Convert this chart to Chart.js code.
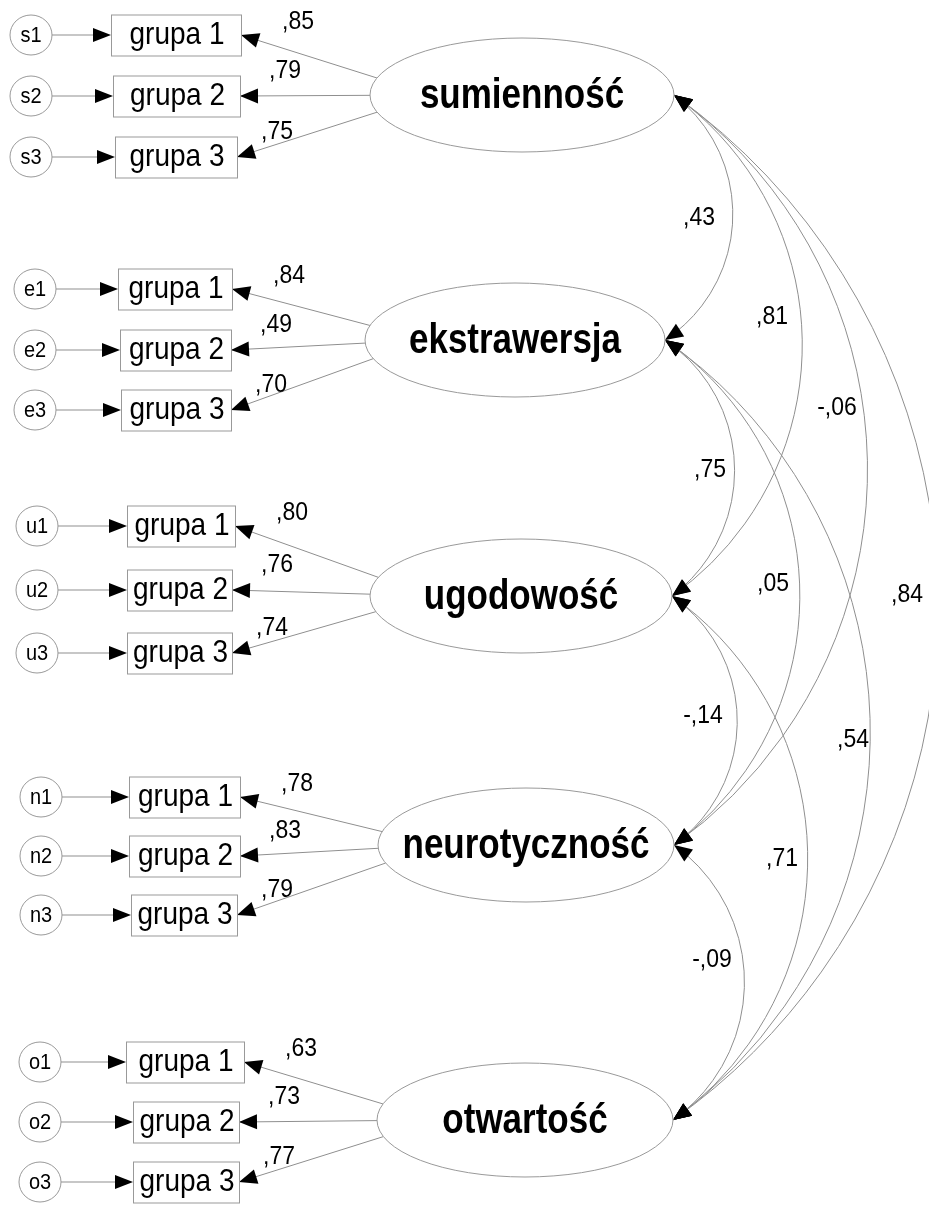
<!DOCTYPE html>
<html>
<head>
<meta charset="utf-8">
<title>Model CFA - pięć czynników</title>
<script src="https://cdn.jsdelivr.net/npm/chart.js@4.4.0/dist/chart.umd.min.js"></script>
<style>
  html, body { margin: 0; padding: 0; background: #fff; }
  #wrap { width: 929px; height: 1207px; }
</style>
</head>
<body>
<div id="wrap"><canvas id="myChart" width="929" height="1207"></canvas></div>
<script>
// dane modelu
const factors = ['sumienność', 'ekstrawersja', 'ugodowość', 'neurotyczność', 'otwartość'];
const errorPrefix = ['s', 'e', 'u', 'n', 'o'];
const indicators = ['grupa 1', 'grupa 2', 'grupa 3'];
const loadings = [
  [0.85, 0.79, 0.75],
  [0.84, 0.49, 0.70],
  [0.80, 0.76, 0.74],
  [0.78, 0.83, 0.79],
  [0.63, 0.73, 0.77]
];
const corrFrom = [0, 0, 0, 0, 1, 1, 1, 2, 2, 3];
const corrTo = [1, 2, 3, 4, 2, 3, 4, 3, 4, 4];
const corrValues = [0.43, 0.81, -0.06, 0.84, 0.75, 0.05, 0.54, -0.14, 0.71, -0.09];

// uklad rysunku (wspolrzedne osi x/y)
const factorX = [522, 515, 521, 526, 525];
const factorY = [95, 340, 596, 845, 1120];
const factorRx = [152, 150, 151, 148, 148];
const factorRy = 57;
const rowY = [[35, 96, 157], [289, 350, 410], [526, 590, 653], [797, 856, 915], [1062, 1122, 1182]];
const boxL = [[111, 113, 115], [118, 120, 121], [127, 127, 127], [129, 129, 131], [126, 133, 133]];
const boxR = [[241, 240, 237], [232, 231, 231], [235, 232, 232], [240, 240, 237], [244, 239, 239]];
const circX = [31, 35, 37, 41, 40];
const loadLabelOff = [[57, -13], [45, -25], [40, -25]];
const corrLabelPos = [[699, 218], [772, 317], [837, 408], [907, 595], [710, 470], [773, 584], [853, 740], [703, 716], [782, 859], [712, 960]];

function fmt(v) {
  let s = Math.abs(v).toFixed(2).replace(/^0\./, ',');
  return (v < 0 ? '-' : '') + s;
}

function arrowHead(ctx, tx, ty, dx, dy, L, W) {
  // dx,dy - kierunek wskazujacy na czubek
  let n = Math.hypot(dx, dy); dx /= n; dy /= n;
  let bx = tx - dx * L, by = ty - dy * L;
  ctx.beginPath();
  ctx.moveTo(tx, ty);
  ctx.lineTo(bx - dy * W, by + dx * W);
  ctx.lineTo(bx + dy * W, by - dx * W);
  ctx.closePath();
  ctx.fillStyle = '#000';
  ctx.fill();
}

// tekst lekko rozciagniety w pionie (jak w AMOS)
function tallText(ctx, txt, x, y, font, k) {
  ctx.save();
  ctx.translate(x, y);
  ctx.scale(1, k);
  ctx.font = font;
  ctx.textAlign = 'center';
  ctx.textBaseline = 'middle';
  ctx.fillStyle = '#000';
  ctx.fillText(txt, 0, 0);
  ctx.restore();
}

const semPlugin = {
  id: 'sem',
  afterDatasetsDraw(chart) {
    const ctx = chart.ctx;
    const xs = chart.scales.x, ys = chart.scales.y;
    const px = v => xs.getPixelForValue(v);
    const py = v => ys.getPixelForValue(v);
    const sx = Math.abs(px(1) - px(0)), sy = Math.abs(py(1) - py(0));
    const lineCol = '#8f8f8f';
    const ff = '"Liberation Sans", Arial, sans-serif';
    ctx.save();
    ctx.lineWidth = 1;

    // korelacje - luki po prawej stronie
    for (let k = 0; k < corrValues.length; k++) {
      let a = corrFrom[k], b = corrTo[k];
      let A = { x: px(factorX[a] + factorRx[a]), y: py(factorY[a]) };
      let B = { x: px(factorX[b] + factorRx[b]), y: py(factorY[b]) };
      let dx = B.x - A.x, dy = B.y - A.y;
      let c = Math.hypot(dx, dy);
      let h = 0.258 * c;
      let R = (c * c / 4 + h * h) / (2 * h);
      let nx = dy / c, ny = -dx / c;
      let mx = (A.x + B.x) / 2, my = (A.y + B.y) / 2;
      let cx = mx - nx * (R - h), cy = my - ny * (R - h);
      let aA = Math.atan2(A.y - cy, A.x - cx), aB = Math.atan2(B.y - cy, B.x - cx);
      ctx.beginPath();
      ctx.arc(cx, cy, R, aA, aB, false);
      ctx.strokeStyle = lineCol;
      ctx.stroke();
      arrowHead(ctx, A.x, A.y, Math.sin(aA), -Math.cos(aA), 18, 7.5);
      arrowHead(ctx, B.x, B.y, -Math.sin(aB), Math.cos(aB), 18, 7.5);
    }

    for (let i = 0; i < factors.length; i++) {
      let cxF = factorX[i], cyF = factorY[i], rx = factorRx[i];
      for (let j = 0; j < indicators.length; j++) {
        let y = rowY[i][j];
        // strzalka blad -> wskaznik
        let x0 = px(circX[i] + 21), x1 = px(boxL[i][j]);
        ctx.beginPath();
        ctx.moveTo(x0, py(y)); ctx.lineTo(x1 - 10, py(y));
        ctx.strokeStyle = lineCol; ctx.stroke();
        arrowHead(ctx, x1, py(y), 1, 0, 18, 7);

        // ladunek czynnikowy: elipsa -> wskaznik
        let Tx = boxR[i][j], Ty = y;
        let Px = cxF - 0.6 * rx, Py = cyF;
        let u = (Tx - cxF) / rx, v = (Ty - cyF) / factorRy;
        let du = (Px - Tx) / rx, dv = (Py - Ty) / factorRy;
        let qa = du * du + dv * dv, qb = 2 * (u * du + v * dv), qc = u * u + v * v - 1;
        let t = (-qb - Math.sqrt(qb * qb - 4 * qa * qc)) / (2 * qa);
        let Sx = Tx + t * (Px - Tx), Sy = Ty + t * (Py - Ty);
        ctx.beginPath();
        ctx.moveTo(px(Sx), py(Sy)); ctx.lineTo(px(Tx), py(Ty));
        ctx.strokeStyle = lineCol; ctx.stroke();
        arrowHead(ctx, px(Tx), py(Ty), px(Tx) - px(Sx), py(Ty) - py(Sy), 18, 7.5);

        // prostokat wskaznika
        ctx.fillStyle = '#fff';
        ctx.strokeStyle = '#999';
        let bx = px(boxL[i][j]), bw = px(boxR[i][j]) - bx, bh = 41 * sy;
        ctx.fillRect(bx, py(y) - bh / 2, bw, bh);
        ctx.strokeRect(bx + 0.5, py(y) - bh / 2 + 0.5, bw, bh);
        tallText(ctx, indicators[j], bx + bw / 2 + 1, py(y) + 1, '28px ' + ff, 1.1);

        // blad pomiaru
        ctx.beginPath();
        ctx.ellipse(px(circX[i]), py(y), 21 * sx, 20 * sy, 0, 0, Math.PI * 2);
        ctx.fillStyle = '#fff'; ctx.fill();
        ctx.strokeStyle = '#999'; ctx.stroke();
        tallText(ctx, errorPrefix[i] + (j + 1), px(circX[i]), py(y) + 1, '20px ' + ff, 1.08);

        // etykieta ladunku
        tallText(ctx, fmt(loadings[i][j]), px(boxR[i][j] + loadLabelOff[j][0]), py(y + loadLabelOff[j][1]), '23px ' + ff, 1.1);
      }

      // elipsa czynnika
      ctx.beginPath();
      ctx.ellipse(px(cxF), py(cyF), rx * sx, factorRy * sy, 0, 0, Math.PI * 2);
      ctx.fillStyle = '#fff'; ctx.fill();
      ctx.strokeStyle = '#999'; ctx.stroke();
      tallText(ctx, factors[i], px(cxF), py(cyF) + 1, 'bold 35px ' + ff, 1.22);
    }

    // etykiety korelacji
    for (let k = 0; k < corrValues.length; k++) {
      tallText(ctx, fmt(corrValues[k]), px(corrLabelPos[k][0]), py(corrLabelPos[k][1]), '23px ' + ff, 1.1);
    }
    ctx.restore();
  }
};

var ctx = document.getElementById('myChart').getContext('2d');
var myChart = new Chart(ctx, {
  type: 'scatter',
  data: {
    datasets: [{
      label: 'czynniki',
      data: factors.map((f, i) => ({ x: factorX[i], y: factorY[i] })),
      pointRadius: 0
    }]
  },
  options: {
    responsive: false,
    animation: false,
    events: [],
    layout: { padding: 0 },
    scales: {
      x: { type: 'linear', min: 0, max: 929, display: false },
      y: { type: 'linear', min: 0, max: 1207, reverse: true, display: false }
    },
    plugins: {
      legend: { display: false },
      tooltip: { enabled: false }
    }
  },
  plugins: [semPlugin]
});
</script>
</body>
</html>
